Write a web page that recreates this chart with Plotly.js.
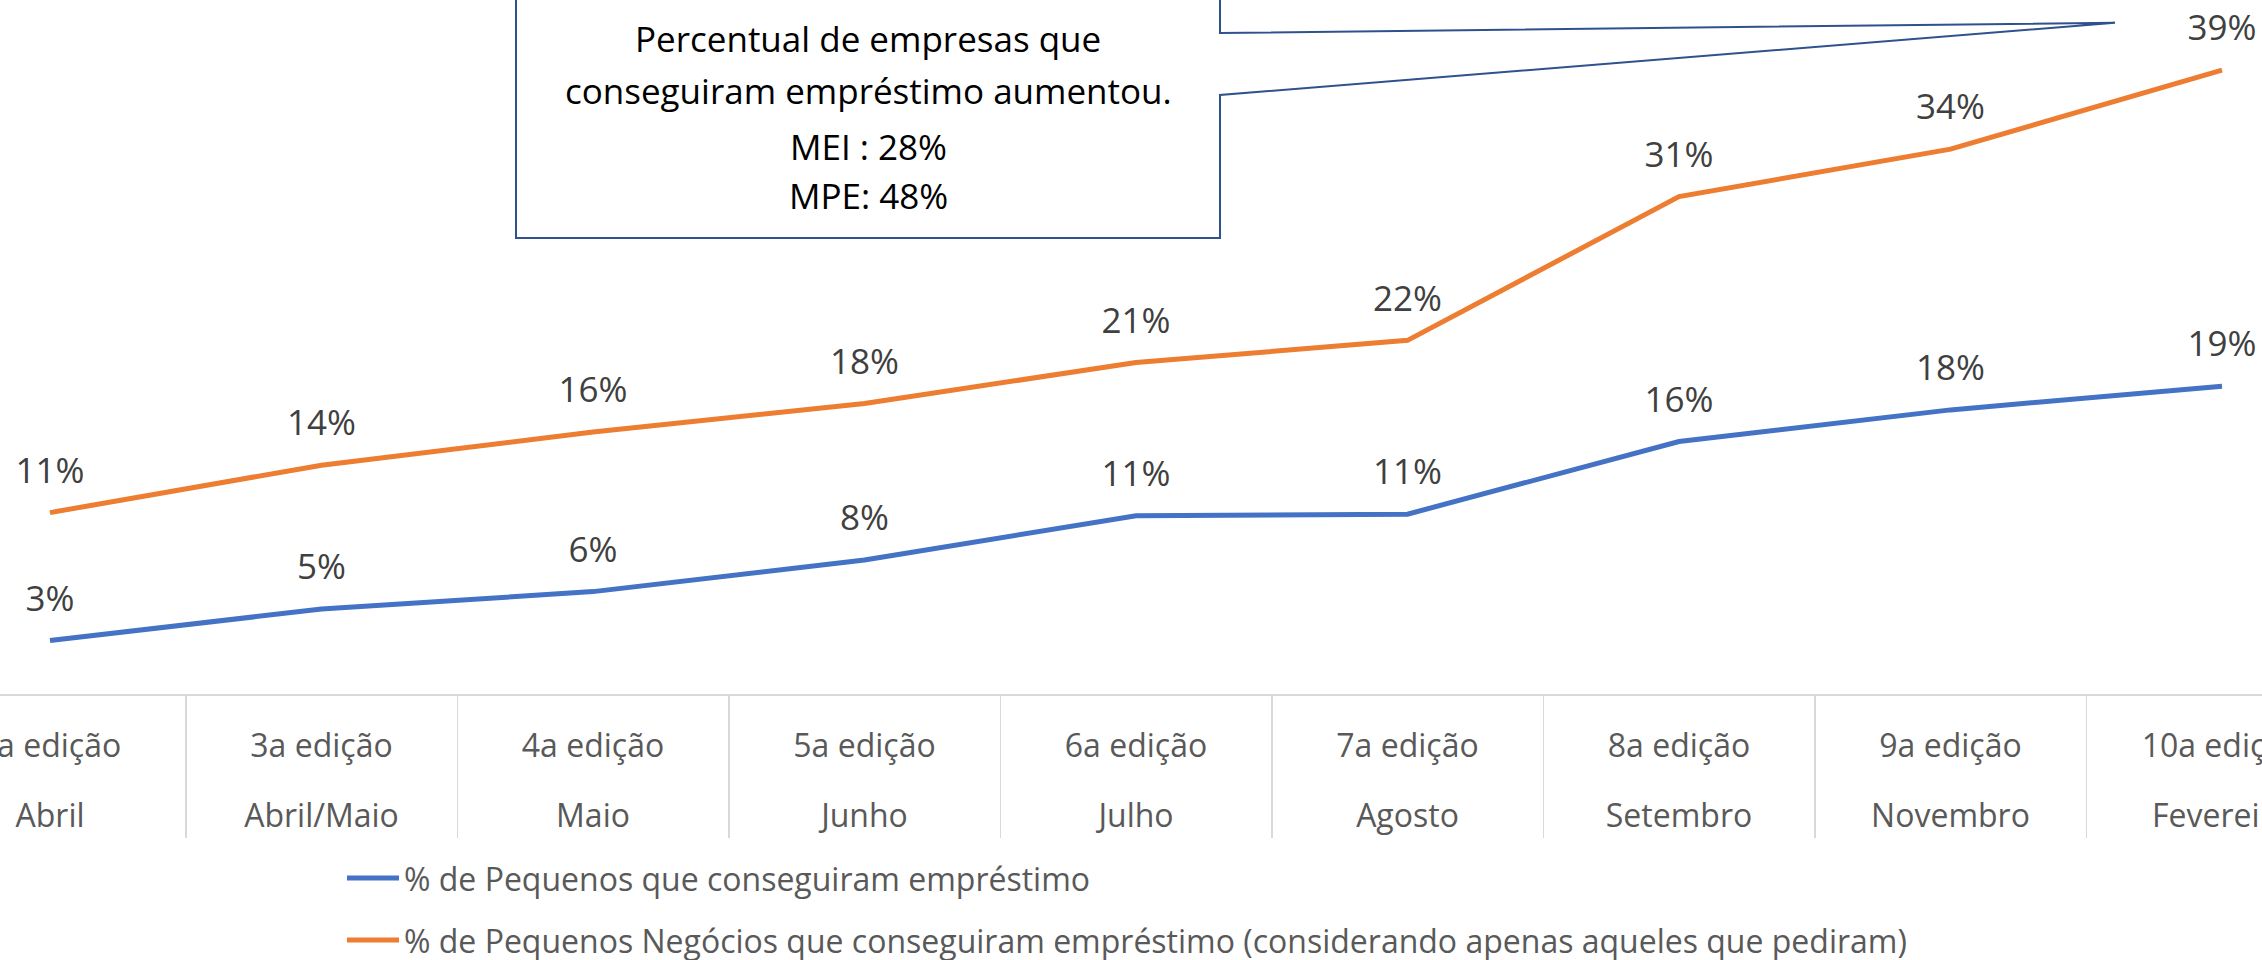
<!DOCTYPE html>
<html>
<head>
<meta charset="utf-8">
<script src="https://cdn.plot.ly/plotly-3.0.1.min.js"></script>
<style>
  html, body { margin: 0; padding: 0; background: #ffffff; overflow: hidden; }
  #chart { width: 2262px; height: 960px; }
</style>
</head>
<body>
<div id="chart"></div>
<script>
// ---- data ----
const edicoes = ['2a edição', '3a edição', '4a edição', '5a edição', '6a edição', '7a edição', '8a edição', '9a edição', '10a edição'];
const meses = ['Abril', 'Abril/Maio', 'Maio', 'Junho', 'Julho', 'Agosto', 'Setembro', 'Novembro', 'Fevereiro'];
const pequenos = [0.030, 0.050, 0.061, 0.081, 0.109, 0.110, 0.156, 0.176, 0.191];
const pequenosPediram = [0.111, 0.141, 0.162, 0.180, 0.206, 0.220, 0.311, 0.341, 0.391];
const nomeSerie1 = '% de Pequenos que conseguiram empréstimo';
const nomeSerie2 = '% de Pequenos Negócios que conseguiram empréstimo (considerando apenas aqueles que pediram)';
const calloutLines = ['Percentual de empresas que', 'conseguiram empréstimo aumentou.', 'MEI : 28%', 'MPE: 48%'];

// ---- layout geometry (pixels) ----
const W = 2262, H = 960;
const plotBottom = 694;           // px of category axis line
const FONT = 'Open Sans, DejaVu Sans, sans-serif';
const px2x = p => p / W;
const py2y = p => (plotBottom - p) / plotBottom;

const xRange = [-0.1842, 8.1473];
const yRange = [-0.0038, 0.4354];

const labelFont = { family: FONT, size: 35, color: '#404040' };
const tickFont = { family: FONT, size: 32, color: '#595959' };

const series = [
  { y: pequenos, name: nomeSerie1, color: '#4472C4', xaxis: 'x' },
  { y: pequenosPediram, name: nomeSerie2, color: '#ED7D31', xaxis: 'x2' }
];

const data = series.map(s => ({
  type: 'scatter',
  mode: 'lines+markers+text',
  x: edicoes,
  y: s.y,
  xaxis: s.xaxis,
  yaxis: 'y',
  name: s.name,
  showlegend: false,
  line: { color: s.color, width: 5 },
  marker: { size: 32, color: s.color, opacity: 0 },
  texttemplate: '%{y:.0%}',
  textposition: 'top center',
  textfont: labelFont,
  cliponaxis: false,
  hoverinfo: 'skip'
}));

// callout shape (box with wedge pointer)
const bx0 = 516, bx1 = 1220, by0 = -6, by1 = 238;
const calloutPath = [
  ['M', bx0, by0], ['L', bx1, by0], ['L', bx1, 33], ['L', 2115, 22.7],
  ['L', bx1, 95], ['L', bx1, by1], ['L', bx0, by1]
].map(s => s[0] + px2x(s[1]).toFixed(5) + ',' + py2y(s[2]).toFixed(5)).join(' ') + ' Z';

const shapes = [{
  type: 'path', xref: 'paper', yref: 'paper',
  path: calloutPath,
  fillcolor: '#ffffff',
  line: { color: '#2F528F', width: 2 },
  layer: 'above'
}];

const lineBaselines = [50, 102, 157, 207];
const annotations = calloutLines.map((t, i) => ({
  xref: 'paper', yref: 'paper',
  x: px2x((bx0 + bx1) / 2), y: py2y(lineBaselines[i] - 11),
  xanchor: 'center', yanchor: 'middle',
  text: t, showarrow: false,
  font: { family: FONT, size: 35, color: '#000000' }
}));

// legend (drawn as shapes + text so it sits exactly under the axis)
const legendRows = [878, 940];
series.forEach((s, i) => {
  shapes.push({
    type: 'line', xref: 'paper', yref: 'paper',
    x0: px2x(347), x1: px2x(399), y0: py2y(legendRows[i]), y1: py2y(legendRows[i]),
    line: { color: s.color, width: 5 }
  });
  annotations.push({
    xref: 'paper', yref: 'paper',
    x: px2x(402), y: py2y(legendRows[i]),
    xanchor: 'left', yanchor: 'middle',
    text: s.name, showarrow: false,
    font: tickFont
  });
});

const layout = {
  width: W, height: H,
  margin: { l: 0, r: 0, t: 0, b: H - plotBottom, pad: 0 },
  paper_bgcolor: '#ffffff',
  plot_bgcolor: '#ffffff',
  showlegend: false,
  xaxis: {
    type: 'category',
    range: xRange,
    showgrid: false,
    zeroline: false,
    showline: true, linecolor: '#D9D9D9', linewidth: 2,
    ticks: 'outside', tickson: 'boundaries', ticklen: 142, tickwidth: 1.5, tickcolor: '#D9D9D9',
    ticklabelstandoff: 23,
    tickfont: tickFont,
    fixedrange: true
  },
  xaxis2: {
    type: 'category',
    overlaying: 'x', anchor: 'y', side: 'bottom',
    range: xRange,
    tickmode: 'array',
    tickvals: edicoes,
    ticktext: meses,
    ticks: '',
    showgrid: false, zeroline: false, showline: false,
    ticklabelstandoff: 100,
    tickfont: tickFont,
    fixedrange: true
  },
  yaxis: {
    range: yRange,
    showgrid: false, zeroline: false, showline: false,
    showticklabels: false, ticks: '',
    fixedrange: true
  },
  shapes: shapes,
  annotations: annotations
};

Plotly.newPlot('chart', data, layout, { displayModeBar: false, staticPlot: true });
</script>
</body>
</html>
